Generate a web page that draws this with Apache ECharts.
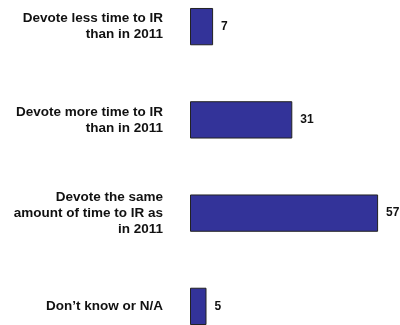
<!DOCTYPE html>
<html>
<head>
<meta charset="utf-8">
<style>
  html, body { margin: 0; padding: 0; background: #fff; }
  #chart { width: 400px; height: 325px; }
</style>
<script src="https://cdn.jsdelivr.net/npm/echarts@6/dist/echarts.min.js"></script>
</head>
<body>
<div id="chart"></div>
<script>
// Survey answers, top to bottom
const categories = [
  'Devote less time to IR\nthan in 2011',
  'Devote more time to IR\nthan in 2011',
  'Devote the same\namount of time to IR as\nin 2011',
  'Don\u2019t know or N/A'
];
const shares = [7, 31, 57, 5];

const chart = echarts.init(document.getElementById('chart'), null, { renderer: 'canvas' });
chart.setOption({
  animation: false,
  backgroundColor: '#ffffff',
  grid: {
    left: 190, width: 198, top: -20, height: 373,
    containLabel: false, outerBoundsMode: 'none'
  },
  xAxis: {
    type: 'value', min: 0, max: 60,
    show: false
  },
  yAxis: {
    type: 'category',
    data: categories,
    inverse: true,
    axisLine: { show: false },
    axisTick: { show: false },
    splitLine: { show: false },
    axisLabel: {
      margin: 27,
      align: 'right',
      fontFamily: 'Liberation Sans, Arial, sans-serif',
      fontWeight: 'bold',
      fontSize: 13.5,
      lineHeight: 16,
      color: '#111111'
    }
  },
  series: [{
    type: 'bar',
    data: shares,
    barWidth: '40%',
    itemStyle: { color: '#333399', borderColor: '#222222', borderWidth: 1 },
    label: {
      show: true,
      position: 'right',
      distance: 8,
      fontFamily: 'Liberation Sans, Arial, sans-serif',
      fontWeight: 'bold',
      fontSize: 12,
      color: '#111111'
    }
  }]
});
</script>
</body>
</html>
